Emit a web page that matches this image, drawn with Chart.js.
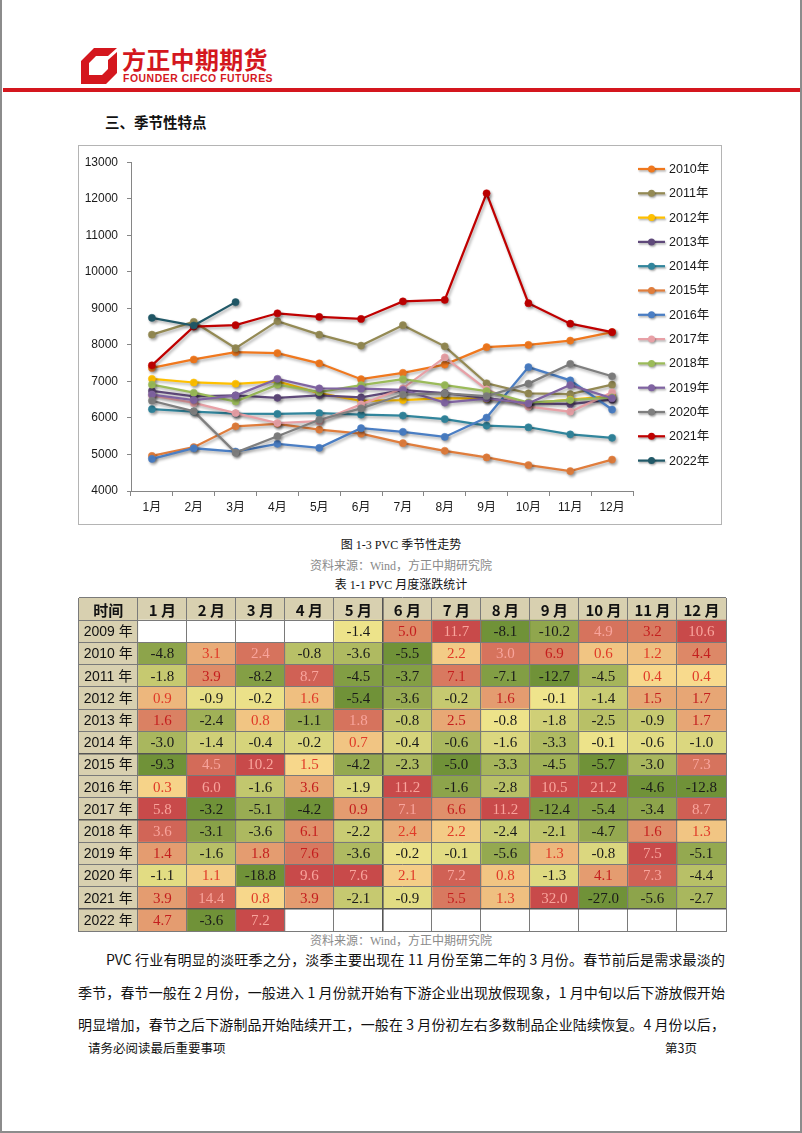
<!DOCTYPE html>
<html><head><meta charset="utf-8">
<script src="https://cdn.jsdelivr.net/npm/chart.js@4.4.1/dist/chart.umd.min.js"></script>
<style>
html,body{margin:0;padding:0;background:#fff;}
body{width:802px;height:1133px;position:relative;overflow:hidden;font-family:"Noto Sans CJK SC","Noto Sans",sans-serif;color:#111;}
.frame{position:absolute;left:0;top:0;width:802px;height:1133px;box-sizing:border-box;border-left:2px solid #8c8c8c;border-right:2px solid #8c8c8c;border-bottom:2px solid #8c8c8c;}
.abs{position:absolute;white-space:nowrap;}
#logoTxt{left:122px;top:45px;font-size:24px;font-weight:700;color:#d4171e;letter-spacing:0.3px;line-height:28px;}
#logoEn{left:123px;top:73px;font-family:"Liberation Sans",Arial,sans-serif;font-size:10.4px;font-weight:700;color:#d4171e;letter-spacing:0.55px;line-height:12px;}
#redline{position:absolute;left:3px;top:88px;width:797px;height:4px;background:#d4171e;}
#sec{left:105px;top:112px;font-size:14.5px;font-weight:700;line-height:20px;}
#chartBox{position:absolute;left:78px;top:145px;width:644px;height:380px;box-sizing:border-box;border:1px solid #b4b4b4;}
#chartBox canvas{display:block;}
.cap{left:0;width:802px;text-align:center;font-size:12px;line-height:16px;font-family:"Liberation Serif","Noto Sans CJK SC",serif;}
.src{color:#8a8a8a;}
#tableBox{position:absolute;left:77px;top:597px;width:650px;height:335px;}
.para{position:absolute;left:78px;width:647px;font-size:14px;line-height:20px;text-align:justify;text-align-last:justify;white-space:nowrap;}
.foot{font-size:12.5px;line-height:16px;}
</style></head>
<body>
<div class="frame"></div>
<svg style="position:absolute;left:81px;top:48px" width="36" height="36" viewBox="0 0 36 36">
  <path fill="#d4171e" fill-rule="evenodd" d="M0,13 L13,0 L36,0 L36,25 L25,36 L0,36 Z M8,15 L15,8 L27,8 L27,21 L21,27 L8,27 Z"/>
  <path fill="#fff" d="M27,8 L36,0 L36,4 L27,12 Z"/>
</svg>
<div id="logoTxt" class="abs">方正中期期货</div>
<div id="logoEn" class="abs">FOUNDER CIFCO FUTURES</div>
<div id="redline"></div>
<div id="sec" class="abs">三、季节性特点</div>

<div id="chartBox"><canvas id="c1" width="642" height="378"></canvas></div>

<div class="abs cap" style="top:537px;">图 1-3 PVC 季节性走势</div>
<div class="abs cap src" style="top:558px;">资料来源：Wind，方正中期研究院</div>
<div class="abs cap" style="top:577px;">表 1-1 PVC 月度涨跌统计</div>

<div id="tableBox"><canvas id="c2" width="650" height="335"></canvas></div>

<div class="abs cap src" style="top:933px;">资料来源：Wind，方正中期研究院</div>

<div class="para" style="top:949px;left:106px;width:619px;">PVC 行业有明显的淡旺季之分，淡季主要出现在 11 月份至第二年的 3 月份。春节前后是需求最淡的</div>
<div class="para" style="top:982px;">季节，春节一般在 2 月份，一般进入 1 月份就开始有下游企业出现放假现象，1 月中旬以后下游放假开始</div>
<div class="para" style="top:1014px;">明显增加，春节之后下游制品开始陆续开工，一般在 3 月份初左右多数制品企业陆续恢复。4 月份以后，</div>
<div class="abs foot" style="left:88px;top:1040px;">请务必阅读最后重要事项</div>
<div class="abs foot" style="left:665px;top:1040px;">第3页</div>

<script>
// ---------- line chart data ----------
const months = ['1月','2月','3月','4月','5月','6月','7月','8月','9月','10月','11月','12月'];
const seriesNames = ['2010年','2011年','2012年','2013年','2014年','2015年','2016年','2017年','2018年','2019年','2020年','2021年','2022年'];
const s2010 = [7370, 7600, 7800, 7775, 7495, 7060, 7235, 7460, 7937, 8000, 8117, 8350];
const s2011 = [8280, 8630, 7910, 8650, 8280, 7980, 8540, 7960, 6950, 6670, 6650, 6910];
const s2012 = [7070, 6970, 6935, 7000, 6680, 6470, 6490, 6540, 6520, 6400, 6500, 6600];
const s2013 = [6740, 6590, 6620, 6550, 6620, 6560, 6760, 6680, 6540, 6400, 6380, 6500];
const s2014 = [6240, 6170, 6120, 6110, 6130, 6090, 6065, 5970, 5790, 5745, 5550, 5455];
const s2015 = [4960, 5200, 5770, 5840, 5680, 5570, 5310, 5100, 4920, 4710, 4545, 4860];
const s2016 = [4880, 5170, 5080, 5290, 5180, 5720, 5620, 5480, 6010, 7390, 7030, 6230];
const s2017 = [6620, 6410, 6130, 5860, 5910, 6370, 6810, 7660, 6780, 6310, 6170, 6700];
const s2018 = [6910, 6690, 6450, 6910, 6710, 6900, 7060, 6900, 6735, 6420, 6490, 6560];
const s2019 = [6640, 6490, 6610, 7070, 6810, 6800, 6770, 6420, 6530, 6400, 6900, 6540];
const s2020 = [6470, 6180, 5050, 5500, 5950, 6260, 6640, 6670, 6600, 6940, 7480, 7140];
const s2021 = [7440, 8500, 8540, 8865, 8765, 8710, 9190, 9230, 12150, 9140, 8580, 8350];
const s2022 = [8740, 8530, 9170];
const yTicks = [4000, 5000, 6000, 7000, 8000, 9000, 10000, 11000, 12000, 13000];

// ---------- table data ----------
const tableMonths = ['1 月','2 月','3 月','4 月','5 月','6 月','7 月','8 月','9 月','10 月','11 月','12 月'];
const tableYears = ['2009 年','2010 年','2011 年','2012 年','2013 年','2014 年','2015 年','2016 年','2017 年','2018 年','2019 年','2020 年','2021 年','2022 年'];
const chg2009 = [null, null, null, null, -1.4, 5.0, 11.7, -8.1, -10.2, 4.9, 3.2, 10.6];
const chg2010 = [-4.8, 3.1, 2.4, -0.8, -3.6, -5.5, 2.2, 3.0, 6.9, 0.6, 1.2, 4.4];
const chg2011 = [-1.8, 3.9, -8.2, 8.7, -4.5, -3.7, 7.1, -7.1, -12.7, -4.5, 0.4, 0.4];
const chg2012 = [0.9, -0.9, -0.2, 1.6, -5.4, -3.6, -0.2, 1.6, -0.1, -1.4, 1.5, 1.7];
const chg2013 = [1.6, -2.4, 0.8, -1.1, 1.8, -0.8, 2.5, -0.8, -1.8, -2.5, -0.9, 1.7];
const chg2014 = [-3.0, -1.4, -0.4, -0.2, 0.7, -0.4, -0.6, -1.6, -3.3, -0.1, -0.6, -1.0];
const chg2015 = [-9.3, 4.5, 10.2, 1.5, -4.2, -2.3, -5.0, -3.3, -4.5, -5.7, -3.0, 7.3];
const chg2016 = [0.3, 6.0, -1.6, 3.6, -1.9, 11.2, -1.6, -2.8, 10.5, 21.2, -4.6, -12.8];
const chg2017 = [5.8, -3.2, -5.1, -4.2, 0.9, 7.1, 6.6, 11.2, -12.4, -5.4, -3.4, 8.7];
const chg2018 = [3.6, -3.1, -3.6, 6.1, -2.2, 2.4, 2.2, -2.4, -2.1, -4.7, 1.6, 1.3];
const chg2019 = [1.4, -1.6, 1.8, 7.6, -3.6, -0.2, -0.1, -5.6, 1.3, -0.8, 7.5, -5.1];
const chg2020 = [-1.1, 1.1, -18.8, 9.6, 7.6, 2.1, 7.2, 0.8, -1.3, 4.1, 7.3, -4.4];
const chg2021 = [3.9, 14.4, 0.8, 3.9, -2.1, -0.9, 5.5, 1.3, 32.0, -27.0, -5.6, -2.7];
const chg2022 = [4.7, -3.6, 7.2, null, null, null, null, null, null, null, null, null];

// ---------- line chart ----------
const seriesData = [s2010,s2011,s2012,s2013,s2014,s2015,s2016,s2017,s2018,s2019,s2020,s2021,s2022];
const seriesColors = ['#F0781E','#948A54','#FFC000','#5F497A','#31859C','#E07D3C','#4A7EC4','#E8A0A6','#9BBB59','#8064A2','#7F7F7F','#C00000','#215968'];

const shadowPlugin = {
  id:'shadow',
  beforeDatasetDraw(chart){ const c=chart.ctx; c.save(); c.shadowColor='rgba(0,0,0,0.33)'; c.shadowBlur=3; c.shadowOffsetX=1.5; c.shadowOffsetY=2; },
  afterDatasetDraw(chart){ chart.ctx.restore(); }
};
const sideLegend = {
  id:'sideLegend',
  afterDraw(chart){
    const ctx = chart.ctx;
    const x0 = chart.chartArea.right + 5, lineW = 27, step = 24.3, top = 23;
    ctx.save();
    chart.data.datasets.forEach((d,i)=>{
      const y = top + i*step;
      ctx.save();
      ctx.shadowColor='rgba(0,0,0,0.3)'; ctx.shadowBlur=2; ctx.shadowOffsetX=1; ctx.shadowOffsetY=1.5;
      ctx.strokeStyle = d.borderColor; ctx.lineWidth = 2.25;
      ctx.beginPath(); ctx.moveTo(x0, y); ctx.lineTo(x0+lineW, y); ctx.stroke();
      ctx.fillStyle = d.borderColor; ctx.beginPath(); ctx.arc(x0+lineW/2, y, 3.5, 0, Math.PI*2); ctx.fill();
      ctx.restore();
      ctx.fillStyle = '#1a1a1a'; ctx.font = '12.5px "Liberation Sans", "Noto Sans CJK SC", sans-serif';
      ctx.textBaseline = 'middle'; ctx.textAlign = 'left';
      ctx.fillText(d.label, x0+lineW+4, y+0.5);
    });
    ctx.restore();
  }
};

new Chart(document.getElementById('c1'), {
  type:'line',
  data:{
    labels: months,
    datasets: seriesData.map((arr,i)=>({
      label: seriesNames[i], data: arr,
      borderColor: seriesColors[i], backgroundColor: seriesColors[i],
      pointBackgroundColor: seriesColors[i], pointBorderColor: seriesColors[i],
      borderWidth: 2.25, pointRadius: 3.6, pointBorderWidth: 0.5, tension: 0,
      order: seriesData.length - i, clip: false
    }))
  },
  options:{
    responsive:false, animation:false, devicePixelRatio:1,
    layout:{padding:{left:0, top:11, right:88, bottom:0}},
    plugins:{legend:{display:false}, tooltip:{enabled:false}},
    scales:{
      x:{
        offset:true,
        grid:{display:true, drawOnChartArea:false, offset:true, tickLength:5, color:'#868686'},
        border:{color:'#868686', width:1},
        ticks:{color:'#1a1a1a', font:{size:12, family:'"Liberation Sans", "Noto Sans CJK SC", sans-serif'}, padding:4, maxRotation:0, autoSkip:false},
        afterFit(s){ s.height = 33; }
      },
      y:{
        min:4000, max:13000,
        afterBuildTicks(s){ s.ticks = yTicks.map(v=>({value:v})); },
        grid:{display:true, drawOnChartArea:false, tickLength:4, color:'#868686'},
        border:{color:'#868686', width:1},
        ticks:{color:'#1a1a1a', font:{size:12, family:'"Liberation Sans", sans-serif'}, padding:9, callback:(v)=>String(v)},
        afterFit(s){ s.width = 52; }
      }
    }
  },
  plugins:[shadowPlugin, sideLegend]
});

// ---------- table (heat map) ----------
const tableRows = [chg2009,chg2010,chg2011,chg2012,chg2013,chg2014,chg2015,chg2016,chg2017,chg2018,chg2019,chg2020,chg2021,chg2022];
const rowLabels = ['时间'].concat(tableYears);
const firstColW = 1.22;
const colWidths = [firstColW].concat(tableMonths.map(()=>1));
const GREEN=[112,146,56], YEL=[255,238,150], RED=[200,74,74];
function mix(a,b,t){ return 'rgb(' + a.map((v,k)=>Math.round(v+(b[k]-v)*t)).join(',') + ')'; }
function groupFor(r, j){
  // rows 2009-2020 are scaled per month column; 2021 and 2022 per row
  if (r <= 11) return tableRows.slice(0,12).map(row=>row[j]).filter(v=>v!==null);
  return tableRows[r].filter(v=>v!==null);
}
function cellT(r, j){
  const v = tableRows[r][j];
  const g = groupFor(r, j);
  if (v > 0){
    const pos = g.filter(x=>x>0).sort((a,b)=>a-b);
    return ((pos.indexOf(v)+pos.lastIndexOf(v))/2 + 1)/pos.length;
  } else if (v < 0){
    const neg = g.filter(x=>x<0).sort((a,b)=>b-a);
    return ((neg.indexOf(v)+neg.lastIndexOf(v))/2 + 1)/neg.length;
  }
  return 0;
}
function cellColor(r, j){
  const v = tableRows[r][j];
  if (v === null) return '#ffffff';
  const t = cellT(r, j);
  return v > 0 ? mix(YEL, RED, t) : mix(YEL, GREEN, t);
}
function textColor(r, j){
  const v = tableRows[r][j];
  if (v <= 0) return '#1a1a1a';
  const t = cellT(r, j);
  if (t < 0.42) return '#E03A28';
  if (t < 0.72) return '#C41E1E';
  return '#F8A49C';
}
const HEAD = '#D8D0B0';
const tableDatasets = colWidths.map((w, j)=>({
  label: j===0 ? '时间' : tableMonths[j-1],
  data: rowLabels.map(()=>w),
  backgroundColor: rowLabels.map((lab, i)=>{
    if (i===0 || j===0) return HEAD;
    return cellColor(i-1, j-1);
  }),
  borderWidth:0, barPercentage:1, categoryPercentage:1, inflateAmount:0.4
}));
let acc = 0; const colBounds = [0].concat(colWidths.map(w=>(acc+=w)));
const thickRows = [7, 10, 14];

const cellText = {
  id:'cellText',
  afterDraw(chart){
    const ctx = chart.ctx;
    ctx.save(); ctx.textAlign='center'; ctx.textBaseline='middle';
    chart.data.datasets.forEach((ds, j)=>{
      chart.getDatasetMeta(j).data.forEach((el, i)=>{
        const cx = (el.x + el.base)/2, cy = el.y;
        let txt = '', font, color = '#111';
        if (i===0){ txt = ds.label; font = 'bold 15px "Noto Sans CJK SC", sans-serif'; }
        else if (j===0){ txt = tableYears[i-1]; font = '14px "Liberation Sans", "Noto Sans CJK SC", sans-serif'; }
        else {
          const v = tableRows[i-1][j-1];
          if (v === null) return;
          txt = v.toFixed(1); font = '15px "Liberation Serif", serif';
          color = textColor(i-1, j-1);
        }
        ctx.font = font; ctx.fillStyle = color;
        ctx.fillText(txt, cx, cy + 1);
      });
    });
    ctx.restore();
  }
};

new Chart(document.getElementById('c2'), {
  type:'bar',
  data:{ labels: rowLabels, datasets: tableDatasets },
  options:{
    indexAxis:'y', responsive:false, animation:false, devicePixelRatio:1,
    layout:{padding:{left:1, right:1, top:1, bottom:1}},
    plugins:{legend:{display:false}, tooltip:{enabled:false}},
    scales:{
      x:{
        type:'linear', stacked:true, min:0, max:colBounds[colBounds.length-1],
        afterBuildTicks(s){ s.ticks = colBounds.map(v=>({value:v})); },
        grid:{z:1, color:(c)=> c.index===6 ? '#555' : '#7a7a7a', lineWidth:(c)=> c.index===6 ? 1.6 : 1, drawTicks:false},
        border:{z:1, display:true, color:'#7a7a7a'},
        ticks:{display:false},
        afterFit(s){ s.height = 0; }
      },
      y:{
        stacked:true,
        grid:{z:1, color:(c)=> thickRows.includes(c.index) ? '#555' : '#7a7a7a', lineWidth:(c)=> thickRows.includes(c.index) ? 1.6 : 1, drawTicks:false, offset:true},
        border:{z:1, display:true, color:'#7a7a7a'},
        ticks:{display:false},
        afterFit(s){ s.width = 0; }
      }
    }
  },
  plugins:[cellText]
});
</script>
</body></html>
